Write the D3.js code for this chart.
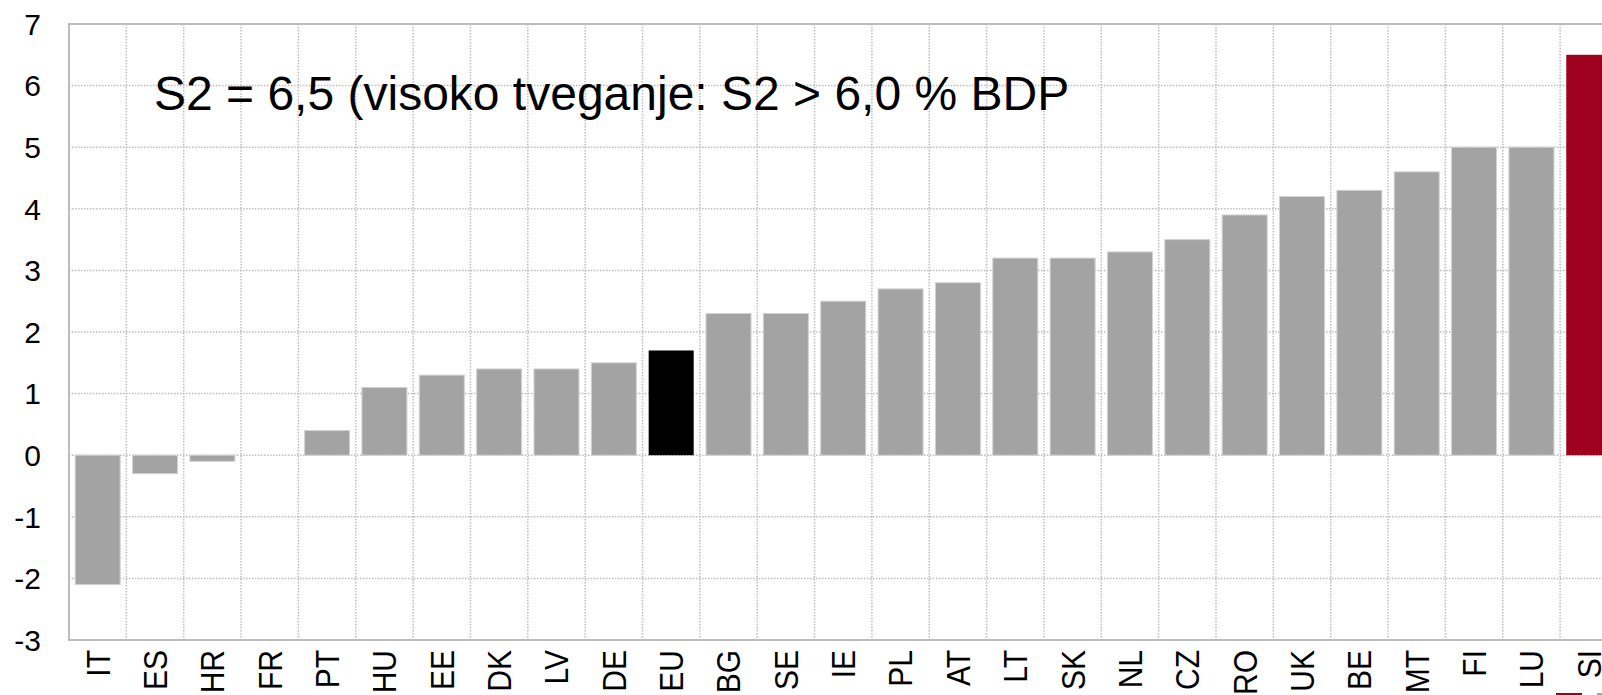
<!DOCTYPE html>
<html>
<head>
<meta charset="utf-8">
<script src="https://cdn.jsdelivr.net/npm/d3@7"></script>
<style>
  body { margin: 0; background: #fff; overflow: hidden; }
  text { font-family: Arial, "Liberation Sans", sans-serif; fill: #000; }
</style>
</head>
<body>
<script>
/* S2 kazalnik po drzavah */

var countries = ["IT", "ES", "HR", "FR", "PT", "HU", "EE", "DK", "LV", "DE", "EU", "BG", "SE", "IE",
    "PL", "AT", "LT", "SK", "NL", "CZ", "RO", "UK", "BE", "MT", "FI", "LU", "SI"];
var s2Values = [-2.1, -0.3, -0.1, 0, 0.4, 1.1, 1.3, 1.4, 1.4, 1.5, 1.7, 2.3, 2.3, 2.5,
    2.7, 2.8, 3.2, 3.2, 3.3, 3.5, 3.9, 4.2, 4.3, 4.6, 5.0, 5.0, 6.5];
var yTicks = [-3, -2, -1, 0, 1, 2, 3, 4, 5, 6, 7];
var note = "S2 = 6,5 (visoko tveganje: S2 > 6,0 % BDP";

var width = 1602;
var height = 695;

var margin = {top: 24, left: 69},
        step = 57.35,
        plotWidth = step * countries.length,
        plotBottom = 640;

var svg = d3.select("body")
        .append("svg")
        .attr("width", width)
        .attr("height", height);

var x = d3.scaleBand()
        .domain(countries)
        .range([margin.left, margin.left + plotWidth])
        .paddingInner(0.215)
        .paddingOuter(0.1075);

var y = d3.scaleLinear()
        .domain([-3, 7])
        .range([plotBottom, margin.top]);

var data = countries.map(function (c, i) {
    return {name: c, value: s2Values[i]};
});

function barColor(d) {
    if (d.name === "SI")
        return "#9e001e";
    if (d.name === "EU")
        return "#000000";
    return "#a3a3a3";
}

// grid
var grid = svg.append("g").attr("class", "grid")
        .attr("stroke", "#bdbdbd")
        .attr("stroke-width", 1.5)
        .attr("stroke-dasharray", "1.5,1.5");

grid.selectAll(".hgrid")
        .data(yTicks.slice(1, -1))
        .enter().append("line")
        .attr("x1", margin.left)
        .attr("x2", margin.left + plotWidth)
        .attr("y1", function (d) { return y(d); })
        .attr("y2", function (d) { return y(d); });

grid.selectAll(".vgrid")
        .data(countries.slice(1))
        .enter().append("line")
        .attr("x1", function (d) { return x(d) - x.step() * x.paddingInner() / 2; })
        .attr("x2", function (d) { return x(d) - x.step() * x.paddingInner() / 2; })
        .attr("y1", margin.top)
        .attr("y2", plotBottom);

// bars
svg.append("g").selectAll("rect")
        .data(data)
        .enter().append("rect")
        .attr("x", function (d) { return x(d.name); })
        .attr("width", x.bandwidth())
        .attr("y", function (d) { return y(Math.max(0, d.value)); })
        .attr("height", function (d) { return Math.abs(y(d.value) - y(0)); })
        .attr("fill", barColor)
        .attr("stroke", function (d) { return d.name === "SI" || d.name === "EU" ? "none" : "#d2d2d2"; })
        .attr("stroke-width", 1);

// frame
var frame = svg.append("g").attr("stroke", "#bdbdbd").attr("stroke-width", 2);
frame.append("line")
        .attr("x1", margin.left).attr("x2", margin.left)
        .attr("y1", margin.top - 1).attr("y2", plotBottom + 1);
frame.append("line")
        .attr("x1", margin.left).attr("x2", margin.left + plotWidth)
        .attr("y1", margin.top).attr("y2", margin.top);
frame.append("line")
        .attr("x1", margin.left).attr("x2", margin.left + plotWidth)
        .attr("y1", plotBottom).attr("y2", plotBottom);

// y labels
svg.append("g").selectAll("text")
        .data(yTicks)
        .enter().append("text")
        .attr("x", 41)
        .attr("y", function (d) { return y(d); })
        .attr("dy", "0.36em")
        .attr("text-anchor", "end")
        .style("font-size", "30px")
        .text(function (d) { return d; });

// x labels
svg.append("g").selectAll("text")
        .data(countries)
        .enter().append("text")
        .attr("transform", function (d) {
            return "translate(" + (x(d) + x.bandwidth() / 2) + "," + (plotBottom + 10) + ") rotate(-90) scale(1,1.1)";
        })
        .attr("dy", "0.36em")
        .attr("text-anchor", "end")
        .style("font-size", "30px")
        .text(function (d) { return d; });

// note
svg.append("text")
        .attr("x", 154)
        .attr("y", 110)
        .style("font-size", "48px")
        .text(note);

// legend (cut off at the bottom edge)
svg.append("rect")
        .attr("x", 1556).attr("y", 693)
        .attr("width", 26).attr("height", 10)
        .attr("fill", "#9e001e");
svg.append("rect")
        .attr("x", 1597).attr("y", 693)
        .attr("width", 26).attr("height", 10)
        .attr("fill", "#a3a3a3");
</script>
</body>
</html>
